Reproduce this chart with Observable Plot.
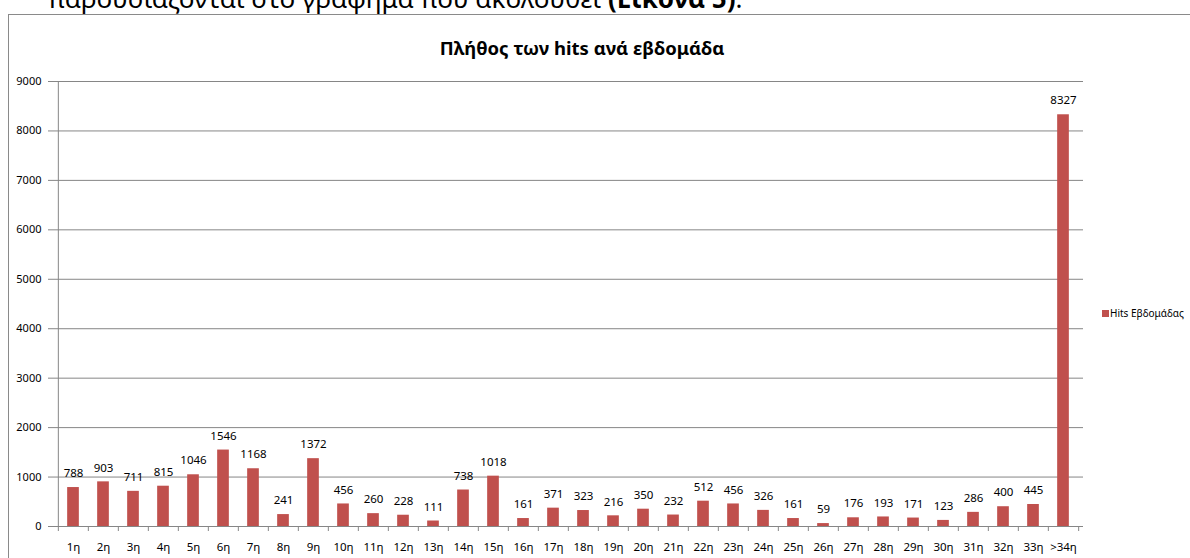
<!DOCTYPE html>
<html>
<head>
<meta charset="utf-8">
<script src="https://cdn.jsdelivr.net/npm/d3@7"></script>
<script src="https://cdn.jsdelivr.net/npm/@observablehq/plot@0.6"></script>
<style>
  html, body { margin: 0; padding: 0; background: #fff; overflow: hidden; }
  body { width: 1190px; height: 558px; position: relative; font-family: "Noto Sans", "Open Sans", sans-serif; }
  #intro { position: absolute; left: 48px; top: -15px; font-size: 26px; line-height: 26px; white-space: nowrap; color: #000; }
  #frame { position: absolute; left: 8px; top: 14px; width: 1300px; height: 700px; border: 1px solid #8a8a8a; box-sizing: border-box; }
  #title { position: absolute; left: 0; width: 1164px; top: 37px; text-align: center; font-size: 18.5px; font-weight: bold; line-height: 22px; color: #000; }
  #legend { position: absolute; left: 1102px; top: 306px; font-size: 10px; line-height: 14px; color: #000; white-space: nowrap; }
  #legend span.sw { display: inline-block; width: 7px; height: 7px; background: #C0504D; margin-right: 1px; vertical-align: 0px; }
  #chart { position: absolute; left: 0; top: 0; }
</style>
</head>
<body>
<div id="intro">παρουσιάζονται στο γράφημα που ακολουθεί <b>(Εικόνα 5)</b>.</div>
<div id="frame"></div>
<div id="chart"></div>
<div id="title">Πλήθος των hits ανά εβδομάδα</div>
<div id="legend"><span class="sw"></span>Hits Εβδομάδας</div>
<script>
const weeks = ["1η","2η","3η","4η","5η","6η","7η","8η","9η","10η","11η","12η","13η","14η","15η","16η","17η","18η","19η","20η","21η","22η","23η","24η","25η","26η","27η","28η","29η","30η","31η","32η","33η",">34η"];
const hits = [788,903,711,815,1046,1546,1168,241,1372,456,260,228,111,738,1018,161,371,323,216,350,232,512,456,326,161,59,176,193,171,123,286,400,445,8327];
const yTicks = [0,1000,2000,3000,4000,5000,6000,7000,8000,9000];

const data = weeks.map((w, i) => ({week: w, hits: hits[i]}));

const W = 1190, H = 558;
const mL = 52, mR = 107, mT = 81, mB = 32;
const step = (W - mL - mR) / weeks.length;
const gray = "#868686";
const barW = 12;

const chart = Plot.plot({
  width: W,
  height: H,
  marginLeft: mL,
  marginRight: mR,
  marginTop: mT,
  marginBottom: mB,
  style: {fontFamily: "'Noto Sans', 'Open Sans', sans-serif", fontSize: "11px", color: "#000", background: "transparent", overflow: "visible"},
  x: {domain: weeks, padding: 0, label: null},
  y: {domain: [0, 9000], label: null},
  marks: [
    Plot.gridY(yTicks.slice(1), {stroke: gray, strokeOpacity: 1}),
    Plot.axisY(yTicks, {tickSize: 4, tickPadding: 7, tickFormat: d3.format("d"), stroke: gray, fill: "#000", label: null, fontSize: 11}),
    Plot.ruleX([weeks[0]], {dx: -step / 2, y1: 0, y2: 9000, stroke: gray}),
    Plot.barY(data, {x: "week", y: "hits", fill: "#C0504D", insetLeft: (step - barW) / 2, insetRight: (step - barW) / 2}),
    Plot.ruleY([0], {stroke: gray}),
    Plot.axisX(weeks, {tickSize: 5, tickFormat: () => "", dx: -step / 2, stroke: gray, label: null}),
    Plot.axisX([weeks[weeks.length - 1]], {tickSize: 5, tickFormat: () => "", dx: step / 2, stroke: gray, label: null}),
    Plot.axisX(weeks, {tickSize: 0, tickPadding: 16, fill: "#000", label: null, fontSize: 11.5}),
    Plot.text(data, {x: "week", y: "hits", text: d => String(d.hits), dy: -14, fill: "#000", fontSize: 11.5})
  ]
});
document.getElementById("chart").appendChild(chart);
</script>
</body>
</html>
